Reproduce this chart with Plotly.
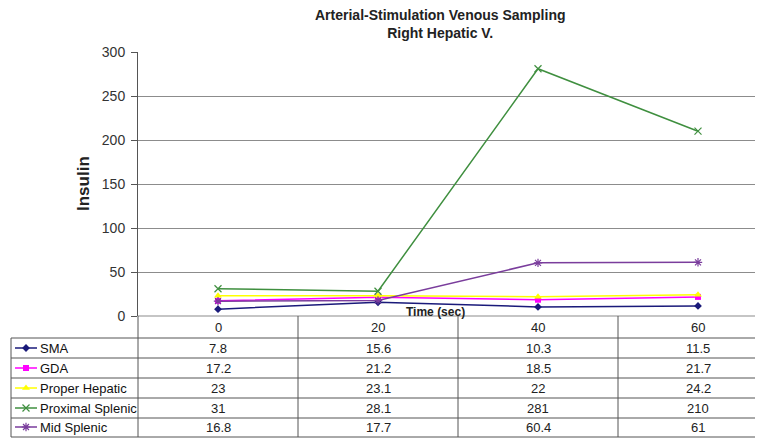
import plotly.graph_objects as go

times = ["0", "20", "40", "60"]
series_names = ["SMA", "GDA", "Proper Hepatic", "Proximal Splenic", "Mid Splenic"]
sma = [7.8, 15.6, 10.3, 11.5]
gda = [17.2, 21.2, 18.5, 21.7]
proper_hepatic = [23, 23.1, 22, 24.2]
proximal_splenic = [31, 28.1, 281, 210]
mid_splenic = [16.8, 17.7, 60.4, 61]
values = [sma, gda, proper_hepatic, proximal_splenic, mid_splenic]

colors = ["#1a1a7a", "#ff00ff", "#ffff00", "#3f8f3f", "#7a3d9c"]
symbols = ["diamond", "square", "triangle-up", "x-thin", "asterisk"]
msizes = [6, 6, 7, 7, 7]

# the page body has an 8px margin; work in window pixels and convert
OFF = 8
WIN_W, WIN_H = 763, 439
W, H = WIN_W - OFF, WIN_H - OFF
L, R, T, B = 138, 763, 52, 316  # plot area in window px

def px_x(p):
    return (p - OFF) / W

def px_y(p):
    return 1 - (p - OFF) / H

FONT = "Arial, Liberation Sans, sans-serif"
line_c = "#555"

fig = go.Figure()
xi = list(range(len(times)))
for name, vals, c, s, ms in zip(series_names, values, colors, symbols, msizes):
    open_sym = s in ("x-thin", "asterisk")
    fig.add_trace(go.Scatter(
        x=xi, y=vals, name=name, mode="lines+markers", showlegend=False,
        line=dict(color=c, width=1.5),
        marker=dict(symbol=s, size=ms, color=c,
                    line=dict(color=c, width=1.2 if open_sym else 0)),
    ))

# table row geometry (window px)
row_lines = [338, 358, 378, 398, 418, 437]
row_centers = [348, 368, 388, 408, 427]
key_x0, key_x1, text_x = 15, 37, 38

# legend keys inside the table's label column (overlay axes in window px)
for r, (c, s, ms) in enumerate(zip(colors, symbols, msizes)):
    open_sym = s in ("x-thin", "asterisk")
    fig.add_trace(go.Scatter(
        x=[(key_x0 + key_x1) / 2], y=[row_centers[r]], xaxis="x2", yaxis="y2",
        mode="markers", showlegend=False, hoverinfo="skip",
        marker=dict(symbol=s, size=ms, color=c,
                    line=dict(color=c, width=1.2 if open_sym else 0)),
    ))

span = (R - L) / 160.0
fig.update_layout(
    width=W, height=H,
    margin=dict(l=0, r=0, t=0, b=0, autoexpand=False),
    paper_bgcolor="white", plot_bgcolor="rgba(0,0,0,0)",
    font=dict(family=FONT, size=13, color="#222"),
    showlegend=False,
    xaxis=dict(domain=[px_x(L), 1], range=[-0.5, -0.5 + span], automargin=False,
               showticklabels=False, showgrid=False, zeroline=False,
               showline=False, ticks=""),
    yaxis=dict(domain=[px_y(B), px_y(T)], range=[0, 300], dtick=50, automargin=False,
               showgrid=True, gridcolor="#8c8c8c", gridwidth=1.2,
               zeroline=False, showline=True, linecolor=line_c, linewidth=1,
               ticks="outside", ticklen=6, tickcolor=line_c,
               ticklabelstandoff=3,
               tickfont=dict(size=14, color="#333")),
    xaxis2=dict(domain=[0, 1], range=[OFF, WIN_W], visible=False, anchor="y2",
                fixedrange=True, automargin=False),
    yaxis2=dict(domain=[0, 1], range=[WIN_H, OFF], visible=False, anchor="x2",
                fixedrange=True, automargin=False),
)

shapes = []
shapes.append(dict(type="line", xref="paper", yref="paper",
                   x0=px_x(L), x1=1, y0=px_y(B), y1=px_y(B),
                   line=dict(color="#8c8c8c", width=1.2)))
for yy in row_lines:
    shapes.append(dict(type="line", xref="paper", yref="paper",
                       x0=px_x(11), x1=1, y0=px_y(yy), y1=px_y(yy),
                       line=dict(color=line_c, width=1)))
shapes.append(dict(type="line", xref="paper", yref="paper",
                   x0=px_x(11), x1=px_x(11), y0=px_y(338), y1=px_y(437),
                   line=dict(color=line_c, width=1)))
shapes.append(dict(type="line", xref="paper", yref="paper",
                   x0=px_x(L), x1=px_x(L), y0=px_y(B), y1=px_y(437),
                   line=dict(color=line_c, width=1)))
for k in range(1, len(times)):
    shapes.append(dict(type="line", xref="x", yref="paper",
                       x0=k - 0.5, x1=k - 0.5, y0=px_y(B), y1=px_y(437),
                       line=dict(color=line_c, width=1)))
for r, c in enumerate(colors):
    shapes.append(dict(type="line", xref="paper", yref="paper",
                       x0=px_x(key_x0), x1=px_x(key_x1),
                       y0=px_y(row_centers[r]), y1=px_y(row_centers[r]),
                       line=dict(color=c, width=1.5)))

annotations = []
annotations.append(dict(text="<b>Arterial-Stimulation Venous Sampling<br>Right Hepatic V.</b>",
                        xref="paper", yref="paper", x=px_x(440), y=px_y(24),
                        xanchor="center", yanchor="middle", showarrow=False,
                        font=dict(size=14, color="#222")))
annotations.append(dict(text="<b>Insulin</b>", xref="paper", yref="paper",
                        x=px_x(83), y=px_y(184), textangle=-90, showarrow=False,
                        xanchor="center", yanchor="middle",
                        font=dict(size=17, color="#222")))
annotations.append(dict(text="<b>Time (sec)</b>", xref="paper", yref="paper",
                        x=px_x(435), y=px_y(312), showarrow=False,
                        font=dict(size=12, color="#222"), yanchor="middle"))
for k, t in enumerate(times):
    annotations.append(dict(text=t, xref="x", yref="paper", x=k, y=px_y(327),
                            showarrow=False, yanchor="middle",
                            font=dict(size=13, color="#222")))
for r, (name, vals) in enumerate(zip(series_names, values)):
    annotations.append(dict(text=name, xref="paper", yref="paper",
                            x=px_x(text_x), y=px_y(row_centers[r]),
                            xanchor="left", yanchor="middle", showarrow=False,
                            font=dict(size=13, color="#111")))
    for k, v in enumerate(vals):
        annotations.append(dict(text=f"{v:g}", xref="x", yref="paper", x=k,
                                y=px_y(row_centers[r]), showarrow=False,
                                yanchor="middle", font=dict(size=13, color="#222")))

fig.update_layout(shapes=shapes, annotations=annotations)
fig.write_html("out.html", config={"displayModeBar": False})
